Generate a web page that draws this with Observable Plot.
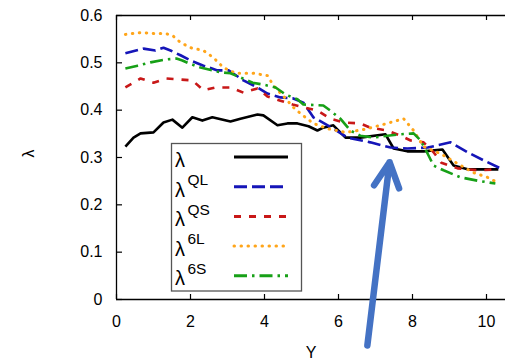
<!DOCTYPE html>
<html><head><meta charset="utf-8">
<script src="https://cdn.jsdelivr.net/npm/d3@7"></script>
<script src="https://cdn.jsdelivr.net/npm/@observablehq/plot@0.6"></script>
<style>
body{margin:0;background:#fff}
#wrap{position:relative;width:505px;height:361px;font-family:"Liberation Sans",Arial,Helvetica,sans-serif}
#legend{position:absolute;left:0;top:0;pointer-events:none}
</style>
</head><body><div id="wrap"></div>
<script>
// Series names (legend order)
const seriesKeys = ["L", "QL", "QS", "6L", "6S"];
const seriesSup = ["", "QL", "QS", "6L", "6S"];
const seriesColors = ["#000000", "#1515b8", "#c81818", "#ffa51a", "#17a017"];
const seriesDash = ["none", "13,5", "7,8", "0.5,6.5", "13,5,2.5,5"];

// λ (solid black)
const xL = [0.24,0.46,0.65,1.0,1.27,1.51,1.78,2.05,2.32,2.59,3.08,3.35,3.81,3.97,4.35,4.62,4.89,5.19,5.43,5.59,5.86,6.19,6.59,7.27,7.49,7.86,8.30,8.81,9.11,9.49,10.32];
const yL = [0.323,0.342,0.351,0.353,0.374,0.380,0.363,0.385,0.378,0.385,0.376,0.382,0.391,0.389,0.368,0.372,0.372,0.366,0.357,0.363,0.368,0.342,0.342,0.349,0.319,0.313,0.313,0.317,0.283,0.275,0.275];
// λ^QL (blue dashed)
const xQL = [0.24,0.73,1.05,1.27,1.46,1.73,2.0,2.35,2.73,3.03,3.43,3.81,4.08,4.43,4.76,5.05,5.32,5.86,6.24,6.86,7.41,7.86,8.41,9.03,9.49,9.92,10.38];
const yQL = [0.520,0.530,0.526,0.532,0.526,0.516,0.505,0.494,0.484,0.484,0.463,0.448,0.435,0.427,0.425,0.416,0.385,0.361,0.342,0.332,0.321,0.319,0.321,0.332,0.311,0.294,0.277];
// λ^QS (red short dash)
const xQS = [0.24,0.65,1.0,1.35,1.68,2.05,2.35,2.68,3.08,3.43,3.81,4.08,4.43,4.76,5.05,5.43,5.78,6.14,6.59,6.86,7.32,7.68,7.95,8.30,8.57,8.78,9.22,9.76,10.32];
const yQS = [0.448,0.467,0.458,0.467,0.465,0.463,0.442,0.448,0.448,0.437,0.446,0.429,0.420,0.412,0.406,0.399,0.382,0.374,0.372,0.363,0.357,0.346,0.336,0.332,0.311,0.289,0.277,0.273,0.275];
// λ^6L (orange dotted)
const x6L = [0.24,0.65,1.0,1.32,1.51,1.73,2.0,2.35,2.62,2.89,3.22,3.70,4.08,4.24,4.54,4.78,4.97,5.32,5.70,6.19,6.68,7.22,7.76,8.03,8.30,8.76,9.22,9.65,10.03,10.30];
const y6L = [0.560,0.564,0.562,0.562,0.558,0.543,0.532,0.526,0.511,0.490,0.478,0.478,0.473,0.452,0.427,0.406,0.393,0.372,0.361,0.353,0.359,0.370,0.382,0.357,0.323,0.308,0.287,0.268,0.258,0.247];
// λ^6S (green dash-dot)
const x6S = [0.24,0.57,0.92,1.32,1.62,1.78,1.95,2.27,2.81,3.08,3.35,3.68,3.97,4.30,4.57,4.89,5.05,5.59,5.78,6.05,6.32,6.59,6.95,7.32,7.68,8.03,8.22,8.41,8.57,8.84,9.30,9.76,10.24];
const y6S = [0.488,0.494,0.501,0.507,0.509,0.505,0.499,0.490,0.480,0.478,0.469,0.458,0.454,0.448,0.433,0.423,0.412,0.410,0.399,0.382,0.357,0.346,0.342,0.346,0.349,0.351,0.336,0.308,0.283,0.273,0.258,0.251,0.245];

const xTicks = [0, 2, 4, 6, 8, 10];
const yTicks = [0, 0.1, 0.2, 0.3, 0.4, 0.5, 0.6];
const xLabel = "Y";
const yLabel = "λ";

// Arrow annotation (data coordinates)
const arrowX1 = [6.78], arrowY1 = [-0.097], arrowX2 = [7.38], arrowY2 = [0.290];

const seriesX = [xL, xQL, xQS, x6L, x6S];
const seriesY = [yL, yQL, yQS, y6L, y6S];
const rows = seriesKeys.flatMap((k, i) => seriesX[i].map((x, j) => ({key: k, x, y: seriesY[i][j]})));
const arrows = arrowX1.map((x1, i) => ({x1, y1: arrowY1[i], x2: arrowX2[i], y2: arrowY2[i]}));

const lineMarks = seriesKeys.map((k, i) => Plot.line(rows.filter(d => d.key === k), {
  x: "x", y: "y", stroke: seriesColors[i], strokeWidth: k === "6L" ? 3 : 2.6,
  strokeDasharray: seriesDash[i] === "none" ? null : seriesDash[i],
  strokeLinecap: k === "6L" ? "round" : "butt"
}));

const frameH = 299 - 15, frameW = 505 - 116;
const chart = Plot.plot({
  width: 505, height: 361,
  marginLeft: 116, marginRight: 0, marginTop: 15, marginBottom: 62,
  style: {fontFamily: '"Liberation Sans", Arial, Helvetica, sans-serif', fontSize: "16px", color: "#000", background: "#fff"},
  x: {domain: [0, 10], range: [116, 486]},
  y: {domain: [0, 0.6], range: [299, 15]},
  marks: [
    Plot.ruleY([0], {stroke: "#000", strokeWidth: 1.3}),
    Plot.ruleY([0.6], {stroke: "#000", strokeWidth: 1.3}),
    Plot.ruleX([0], {stroke: "#000", strokeWidth: 1.3}),
    // inward ticks
    Plot.ruleX(xTicks, {stroke: "#000", strokeWidth: 1.2, insetTop: frameH - 5}),
    Plot.ruleX(xTicks, {stroke: "#000", strokeWidth: 1.2, insetBottom: frameH - 5}),
    Plot.ruleY(yTicks, {stroke: "#000", strokeWidth: 1.2, insetRight: frameW - 6}),
    Plot.axisX({anchor: "bottom", ticks: xTicks, tickSize: 0, tickPadding: 16, label: xLabel, labelAnchor: "center", labelOffset: 58, labelArrow: "none"}),
    Plot.axisY({anchor: "left", ticks: yTicks, tickSize: 0, tickPadding: 14, tickFormat: d => d === 0 ? "0" : d3.format(".1f")(d), label: null}),
    Plot.text([yLabel], {frameAnchor: "left", rotate: -90, dx: -88, fontSize: 16}),
    ...lineMarks,
    Plot.arrow(arrows, {x1: "x1", y1: "y1", x2: "x2", y2: "y2", stroke: "#4472c4", strokeWidth: 6.5, headLength: 6.4, headAngle: 54, strokeLinecap: "round"})
  ]
});
const wrap = document.getElementById("wrap");
wrap.appendChild(chart);

// Legend overlay
const ns = "http://www.w3.org/2000/svg";
const lg = document.createElementNS(ns, "svg");
lg.setAttribute("id", "legend");
lg.setAttribute("width", 505); lg.setAttribute("height", 361);
let html = `<rect x="171.5" y="143.5" width="130" height="147.5" fill="#fff" stroke="#555" stroke-width="1.3"/>`;
seriesKeys.forEach((k, i) => {
  const base = 167 + 29.5 * i;
  const ly = 157 + 29.7 * i;
  html += `<text x="175" y="${base}" font-size="20" font-family="Liberation Sans, Arial, sans-serif" fill="#000">λ</text>`;
  if (seriesSup[i]) html += `<text x="187.5" y="${base - 11.5}" font-size="15.5" font-family="Liberation Sans, Arial, sans-serif" fill="#000">${seriesSup[i]}</text>`;
  html += `<line x1="234" x2="288" y1="${ly}" y2="${ly}" stroke="${seriesColors[i]}" stroke-width="3" ${seriesDash[i] === "none" ? "" : `stroke-dasharray="${seriesDash[i]}"`} ${k === "6L" ? 'stroke-linecap="round"' : ""}/>`;
});
lg.innerHTML = html;
wrap.appendChild(lg);
</script>
</body></html>
